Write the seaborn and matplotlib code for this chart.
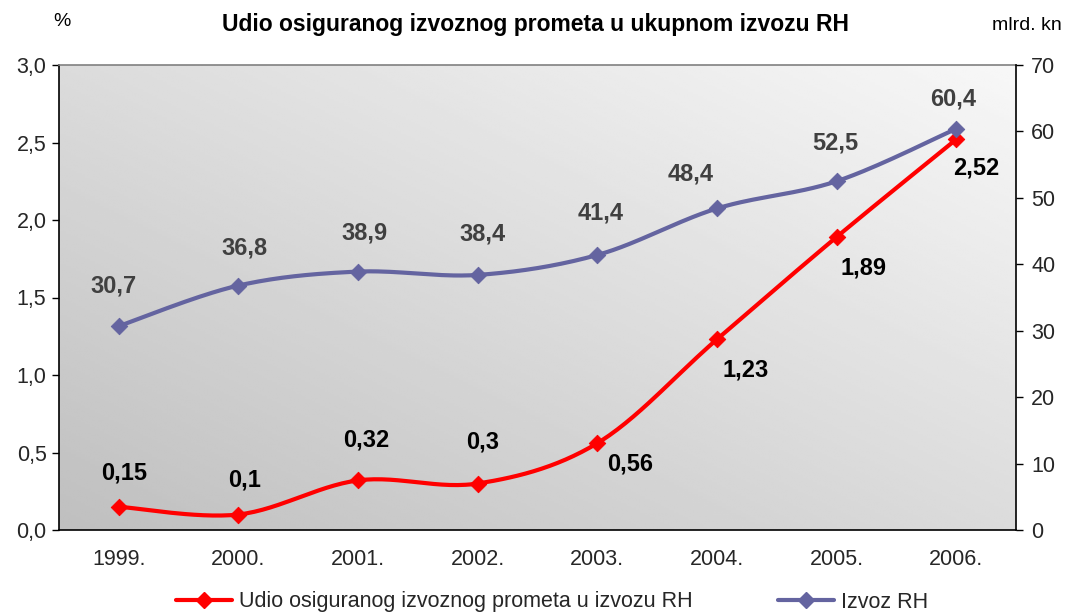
import numpy as np
import pandas as pd
import matplotlib
matplotlib.use("Agg")
import matplotlib.pyplot as plt
import seaborn as sns
from matplotlib.lines import Line2D

years = ["1999.", "2000.", "2001.", "2002.", "2003.", "2004.", "2005.", "2006."]
udio = [0.15, 0.10, 0.32, 0.30, 0.56, 1.23, 1.89, 2.52]
izvoz = [30.7, 36.8, 38.9, 38.4, 41.4, 48.4, 52.5, 60.4]
udio_labels = ["0,15", "0,1", "0,32", "0,3", "0,56", "1,23", "1,89", "2,52"]
izvoz_labels = ["30,7", "36,8", "38,9", "38,4", "41,4", "48,4", "52,5", "60,4"]
left_ticks = [0.0, 0.5, 1.0, 1.5, 2.0, 2.5, 3.0]
right_ticks = [0, 10, 20, 30, 40, 50, 60, 70]

RED = "#FF0000"
BLUE = "#6464A0"

sns.set_theme(style="white")
plt.rcParams["font.family"] = ["Liberation Sans", "DejaVu Sans"]


def smooth(y, n=30):
    # Catmull-Rom rendering of the line (like Excel "smoothed line")
    y = np.asarray(y, float)
    x = np.arange(len(y), dtype=float)
    P = np.vstack([x, y]).T
    P = np.vstack([P[0], P, P[-1]])
    xs, ys = [], []
    for i in range(1, len(P) - 2):
        p0, p1, p2, p3 = P[i - 1], P[i], P[i + 1], P[i + 2]
        t = np.linspace(0, 1, n, endpoint=(i == len(P) - 3))[:, None]
        c = 0.5 * ((2 * p1) + (-p0 + p2) * t + (2 * p0 - 5 * p1 + 4 * p2 - p3) * t ** 2
                   + (-p0 + 3 * p1 - 3 * p2 + p3) * t ** 3)
        xs.extend(c[:, 0]); ys.extend(c[:, 1])
    return np.array(xs), np.array(ys)


fig = plt.figure(figsize=(10.73, 6.15), dpi=100)
ax = fig.add_axes([59 / 1073, 1 - 530 / 615, (1016 - 59) / 1073, (530 - 65) / 615])
ax2 = ax.twinx()

# gradient background
gx, gy = np.meshgrid(np.linspace(0, 1, 200), np.linspace(0, 1, 200))
g = (gx * 0.5 + gy * 0.5)
img = 0.75 + 0.22 * g
ax.imshow(img, cmap="gray", vmin=0, vmax=1, extent=[0, 1, 0, 1], origin="lower",
          transform=ax.transAxes, aspect="auto", zorder=0, interpolation="bilinear")

x = np.arange(len(years))

# red series on left axis
sx, sy = smooth(udio)
sns.lineplot(x=sx, y=sy, ax=ax, color=RED, linewidth=3, sort=False, zorder=3)
sns.scatterplot(x=x, y=udio, ax=ax, color=RED, marker="D", s=70, edgecolor=RED, zorder=4)

# blue series on right axis
bx, by = smooth(izvoz)
sns.lineplot(x=bx, y=by, ax=ax2, color=BLUE, linewidth=3, sort=False, zorder=3)
sns.scatterplot(x=x, y=izvoz, ax=ax2, color=BLUE, marker="D", s=70, edgecolor=BLUE, zorder=4)

ax.set_xlim(-0.5, len(years) - 0.5)
ax.set_ylim(0, 3.0)
ax2.set_ylim(0, 70)
ax.set_xticks(x)
ax.set_xticklabels(years)
ax.set_xticks(np.arange(-0.5, len(years)), minor=True)
ax.tick_params(axis="x", which="major", length=0, pad=14, labelsize=15.5)
ax.tick_params(axis="x", which="minor", length=7, direction="inout", width=1, color="black")
ax.set_yticks(left_ticks)
ax.set_yticklabels([f"{v:.1f}".replace(".", ",") for v in left_ticks])
ax.tick_params(axis="y", which="major", length=5, direction="out", width=1, color="black",
               labelsize=15.5, left=True, pad=4)
ax2.set_yticks(right_ticks)
ax2.set_yticklabels([str(v) for v in right_ticks])
ax2.tick_params(axis="y", length=5, direction="out", width=1, color="black",
                labelsize=15.5, right=True, pad=6)
ax.set_xlabel(""); ax.set_ylabel(""); ax2.set_ylabel("")
ax.grid(False); ax2.grid(False)

for a in (ax, ax2):
    for s in a.spines.values():
        s.set_visible(False)
ax.spines["left"].set_visible(True)
ax.spines["left"].set_color("black")
ax.spines["bottom"].set_visible(True)
ax.spines["bottom"].set_color("black")
ax2.spines["right"].set_visible(True)
ax2.spines["right"].set_color("black")
ax.spines["top"].set_visible(True)
ax.spines["top"].set_color("#808080")
for s in ("left", "bottom", "top"):
    ax.spines[s].set_linewidth(1.2)
ax2.spines["right"].set_linewidth(1.2)
ax.set_zorder(1); ax2.set_zorder(2)
ax2.patch.set_visible(False)

# data labels
blue_off = [(-5, 40), (6, 38), (6, 39), (5, 41), (3, 42), (-26, 34), (-1, 38), (-3, 30)]
red_off = [(5, 34), (6, 35), (8, 40), (5, 41), (33, -21), (29, -31), (27, -31), (20, -29)]
for i in range(len(years)):
    ax2.annotate(izvoz_labels[i], (x[i], izvoz[i]), xytext=blue_off[i], textcoords="offset pixels",
                 ha="center", va="center", fontsize=17, fontweight="bold", color="#404040", zorder=5)
    ax.annotate(udio_labels[i], (x[i], udio[i]), xytext=red_off[i], textcoords="offset pixels",
                ha="center", va="center", fontsize=17, fontweight="bold", color="black", zorder=5)

fig.text(535 / 1073, 1 - 25 / 615, "Udio osiguranog izvoznog prometa u ukupnom izvozu RH",
         ha="center", va="center", fontsize=16.5, fontweight="bold", color="black")
fig.text(62 / 1073, 1 - 22 / 615, "%", ha="center", va="center", fontsize=14, color="black")
fig.text(1027 / 1073, 1 - 25 / 615, "mlrd. kn", ha="center", va="center", fontsize=14,
         color="black")

handles = [Line2D([], [], color=RED, lw=3, marker="D", markersize=8),
           Line2D([], [], color=BLUE, lw=3, marker="D", markersize=8)]
fig.legend(handles, ["Udio osiguranog izvoznog prometa u izvozu RH", "Izvoz RH"],
           loc="center", bbox_to_anchor=(552 / 1073, 1 - 602 / 615), ncol=2, frameon=False,
           fontsize=15.5, handlelength=2.6, handletextpad=0.3, columnspacing=4.0)

fig.savefig("out.png", dpi=100)
